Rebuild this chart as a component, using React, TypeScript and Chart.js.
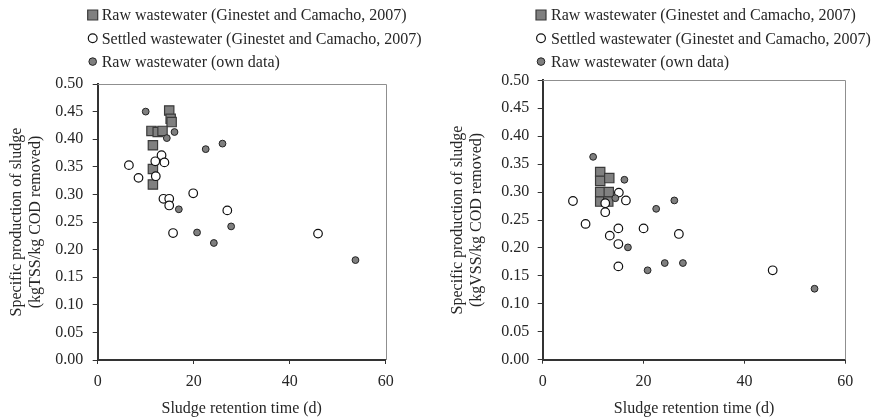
import React, { useEffect, useRef } from 'react';
import { Chart, registerables } from 'chart.js';

Chart.register(...registerables);

// ---------- Data ----------
const seriesLabels = [
  'Raw wastewater (Ginestet and Camacho, 2007)',
  'Settled wastewater (Ginestet and Camacho, 2007)',
  'Raw wastewater (own data)',
];

const xTickValues = [0, 20, 40, 60];

// Left panel: kgTSS/kg COD removed
const leftRawGinX = [14.9, 15.2, 15.4, 11.2, 12.5, 13.5, 11.5, 11.5, 11.5];
const leftRawGinY = [0.452, 0.437, 0.431, 0.415, 0.413, 0.415, 0.389, 0.346, 0.318];
const leftSettledX = [6.5, 8.5, 12.0, 13.3, 13.9, 12.1, 19.9, 13.7, 14.9, 14.9, 15.7, 27.0, 45.9];
const leftSettledY = [0.353, 0.33, 0.36, 0.371, 0.358, 0.333, 0.302, 0.292, 0.292, 0.28, 0.23, 0.271, 0.229];
const leftOwnX = [10.0, 16.0, 14.4, 22.5, 26.0, 16.9, 27.8, 20.7, 24.2, 53.7];
const leftOwnY = [0.45, 0.413, 0.402, 0.382, 0.392, 0.273, 0.242, 0.231, 0.212, 0.181];

// Right panel: kgVSS/kg COD removed
const rightRawGinX = [11.4, 11.4, 13.2, 11.4, 13.1, 11.4, 13.0];
const rightRawGinY = [0.336, 0.32, 0.325, 0.3, 0.3, 0.283, 0.283];
const rightSettledX = [6.0, 8.5, 12.4, 12.4, 15.1, 16.5, 15.0, 13.3, 15.0, 20.0, 27.0, 15.0, 45.6];
const rightSettledY = [0.284, 0.243, 0.28, 0.264, 0.299, 0.285, 0.235, 0.222, 0.207, 0.235, 0.225, 0.167, 0.16];
const rightOwnX = [10.0, 16.2, 14.4, 22.5, 26.1, 16.9, 24.2, 27.8, 20.8, 53.9];
const rightOwnY = [0.363, 0.322, 0.289, 0.27, 0.285, 0.201, 0.173, 0.173, 0.16, 0.127];

// ---------- Styling ----------
const FONT_FAMILY = '"Liberation Serif", "Times New Roman", serif';
const TEXT_COLOR = '#262626';
const AXIS_COLOR = '#333';
const W = 437;
const H = 419;

const zip = (xs: number[], ys: number[]) => xs.map((x, i) => ({ x, y: ys[i] }));

const legendPlugin = {
  id: 'stackLegend',
  afterDraw(chart: any, _args: any, opts: any) {
    const ctx = chart.ctx;
    ctx.save();
    ctx.font = `16px ${FONT_FAMILY}`;
    ctx.textBaseline = 'middle';
    ctx.textAlign = 'left';
    chart.data.datasets.forEach((ds: any, i: number) => {
      const cx = opts.markerX;
      const cy = opts.y + i * opts.rowGap;
      ctx.beginPath();
      if (ds.pointStyle === 'rect') {
        ctx.rect(cx - 5, cy - 5, 10, 10);
      } else {
        ctx.arc(cx, cy, opts.circleR[i] || 4, 0, Math.PI * 2);
      }
      ctx.fillStyle = ds.backgroundColor;
      ctx.fill();
      ctx.lineWidth = ds.borderWidth;
      ctx.strokeStyle = ds.borderColor;
      ctx.stroke();
      ctx.fillStyle = TEXT_COLOR;
      ctx.fillText(ds.label, opts.textX, cy + 1);
    });
    ctx.restore();
  },
};

const framePlugin = {
  id: 'frame',
  beforeDatasetsDraw(chart: any) {
    const { ctx, chartArea } = chart;
    const { left, right, top, bottom } = chartArea;
    ctx.save();
    ctx.strokeStyle = '#8f8f8f';
    ctx.lineWidth = 1;
    ctx.beginPath();
    ctx.moveTo(left, Math.round(top) + 0.5);
    ctx.lineTo(Math.round(right) + 0.5, Math.round(top) + 0.5);
    ctx.lineTo(Math.round(right) + 0.5, bottom);
    ctx.stroke();
    ctx.restore();
  },
};

type PanelSpec = {
  left: number;
  right: number;
  top: number;
  bottom: number;
  yTitlePad: number;
  yTickPad: number;
  legendMarkerX: number;
  legendTextX: number;
  yTitle: string[];
  raw: { x: number; y: number }[];
  settled: { x: number; y: number }[];
  own: { x: number; y: number }[];
};

function buildConfig(p: PanelSpec): any {
  const font = { family: FONT_FAMILY, size: 16 };
  return {
    type: 'scatter',
    data: {
      datasets: [
        {
          label: seriesLabels[0],
          data: p.raw,
          pointStyle: 'rect',
          pointRadius: 6.6,
          backgroundColor: '#808080',
          borderColor: '#3a3a3a',
          borderWidth: 1.2,
          order: 3,
        },
        {
          label: seriesLabels[1],
          data: p.settled,
          pointStyle: 'circle',
          pointRadius: 4.3,
          backgroundColor: '#ffffff',
          borderColor: '#111111',
          borderWidth: 1.2,
          order: 2,
        },
        {
          label: seriesLabels[2],
          data: p.own,
          pointStyle: 'circle',
          pointRadius: 3.4,
          backgroundColor: '#7f7f7f',
          borderColor: '#222222',
          borderWidth: 1,
          order: 1,
        },
      ],
    },
    options: {
      animation: false,
      responsive: false,
      events: [],
      layout: { padding: { left: 0, top: p.top, right: W - p.right, bottom: 0 } },
      plugins: {
        legend: { display: false },
        tooltip: { enabled: false },
        stackLegend: {
          markerX: p.legendMarkerX,
          textX: p.legendTextX,
          y: 15,
          rowGap: 23.3,
          circleR: [0, 4.4, 3.8],
        },
      },
      scales: {
        x: {
          type: 'linear',
          min: 0,
          max: 60,
          afterBuildTicks: (s: any) => {
            s.ticks = xTickValues.map((v) => ({ value: v }));
          },
          ticks: { color: TEXT_COLOR, font, padding: 8, maxRotation: 0 },
          grid: { drawOnChartArea: false, drawTicks: true, tickLength: 4, color: AXIS_COLOR },
          border: { color: AXIS_COLOR, width: 2 },
          title: {
            display: true,
            text: 'Sludge retention time (d)',
            color: TEXT_COLOR,
            font,
            padding: { top: 0, bottom: 1 },
          },
          afterFit: (s: any) => {
            s.height = H - p.bottom;
            s.paddingLeft = 0;
            s.paddingRight = 0;
          },
        },
        y: {
          type: 'linear',
          min: 0,
          max: 0.5,
          ticks: {
            stepSize: 0.05,
            color: TEXT_COLOR,
            font,
            padding: p.yTickPad,
            callback: (v: any) => Number(v).toFixed(2),
          },
          grid: { drawOnChartArea: false, drawTicks: true, tickLength: 5, color: AXIS_COLOR },
          border: { color: AXIS_COLOR, width: 2 },
          title: {
            display: true,
            text: p.yTitle,
            color: TEXT_COLOR,
            font,
            padding: { top: p.yTitlePad, bottom: 0 },
          },
          afterFit: (s: any) => {
            s.width = p.left;
            s.paddingTop = 0;
            s.paddingBottom = 0;
          },
        },
      },
    },
    plugins: [framePlugin, legendPlugin],
  };
}

function Panel({ spec, offsetX }: { spec: PanelSpec; offsetX: number }) {
  const ref = useRef<HTMLCanvasElement | null>(null);
  useEffect(() => {
    if (!ref.current) return;
    const chart = new Chart(ref.current, buildConfig(spec));
    return () => chart.destroy();
  }, [spec]);
  return (
    <canvas
      ref={ref}
      width={W}
      height={H}
      style={{ position: 'absolute', left: offsetX, top: 0, width: W, height: H }}
    />
  );
}

const leftSpec: PanelSpec = {
  left: 97.7,
  right: 385.7,
  top: 84,
  bottom: 360,
  yTitlePad: 7.4,
  yTickPad: 9.5,
  legendMarkerX: 92.7,
  legendTextX: 101.7,
  yTitle: ['Specific production of sludge', '(kgTSS/kg COD removed)'],
  raw: zip(leftRawGinX, leftRawGinY),
  settled: zip(leftSettledX, leftSettledY),
  own: zip(leftOwnX, leftOwnY),
};

const rightSpec: PanelSpec = {
  left: 105.7,
  right: 408.3,
  top: 80.3,
  bottom: 359.7,
  yTitlePad: 11.4,
  yTickPad: 8.5,
  legendMarkerX: 104,
  legendTextX: 114,
  yTitle: ['Specific production of sludge', '(kgVSS/kg COD removed)'],
  raw: zip(rightRawGinX, rightRawGinY),
  settled: zip(rightSettledX, rightSettledY),
  own: zip(rightOwnX, rightOwnY),
};

export default function App() {
  return (
    <div
      style={{
        position: 'fixed',
        left: 0,
        top: 0,
        width: 874,
        height: 419,
        background: '#ffffff',
        overflow: 'hidden',
      }}
    >
      <Panel spec={leftSpec} offsetX={0} />
      <Panel spec={rightSpec} offsetX={437} />
    </div>
  );
}
